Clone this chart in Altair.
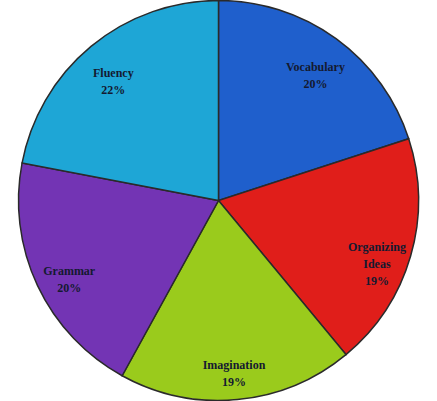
import altair as alt
import pandas as pd

categories = ["Vocabulary", "Organizing Ideas", "Imagination", "Grammar", "Fluency"]
values = [20, 19, 19, 20, 22]
labels = ["Vocabulary\n20%", "Organizing\nIdeas\n19%", "Imagination\n19%", "Grammar\n20%", "Fluency\n22%"]
colors = ["#1f5fcc", "#e01e1a", "#9acb1c", "#7334b4", "#1ea6d6"]

df = pd.DataFrame({
    "category": categories,
    "value": values,
    "label": labels,
    "order": list(range(len(categories))),
})

base = alt.Chart(df).encode(
    theta=alt.Theta("value:Q", stack=True),
    order=alt.Order("order:Q"),
)

pie = base.mark_arc(outerRadius=200, stroke="#2a2a2a", strokeWidth=1.5).encode(
    color=alt.Color("category:N", scale=alt.Scale(domain=categories, range=colors), legend=None)
)

text = base.mark_text(
    radius=165, font="Liberation Serif", fontWeight="bold", fontSize=12,
    color="#141a30", lineBreak="\n", lineHeight=17
).encode(text="label:N")

chart = (pie + text).properties(
    width=437, height=401,
    autosize=alt.AutoSizeParams(type="none"),
    padding=0,
    background="white",
).configure_view(stroke=None)

chart.save("out.html", embed_options={"renderer": "svg", "actions": False})
